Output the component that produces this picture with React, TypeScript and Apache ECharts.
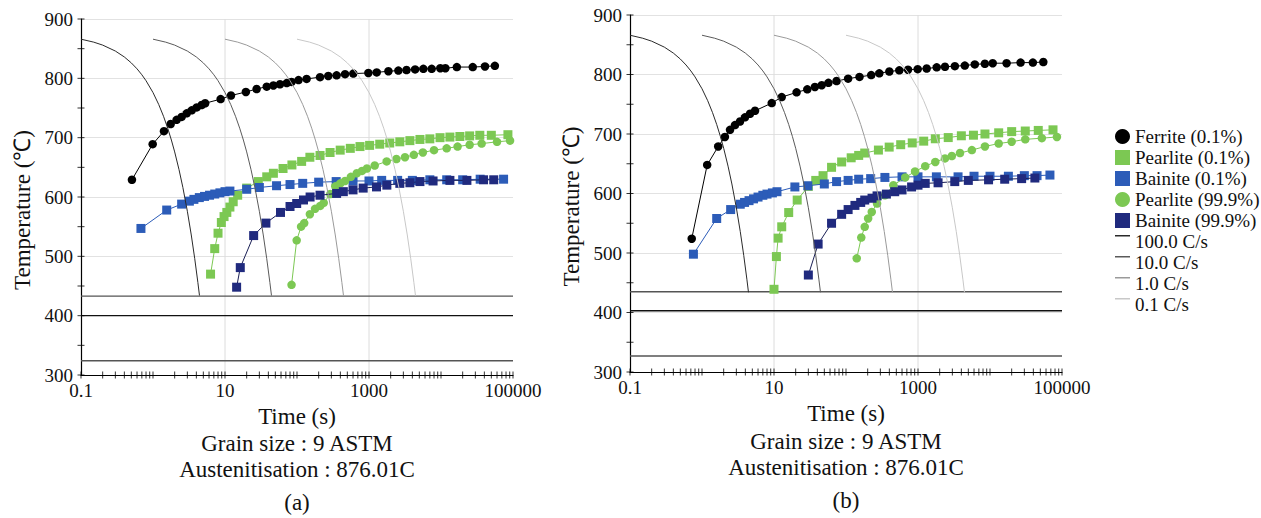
import React, { useEffect, useRef } from "react";
import * as echarts from "echarts";

type P = [number, number];

// ---------- chart (a) ----------
const ferriteA: P[] = [
  [0.51, 629], [0.99, 689], [1.42, 711], [1.76, 723], [2.13, 730], [2.5, 735], [2.94, 741], [3.45, 746],
  [4.05, 751], [4.74, 755], [5.3, 758], [8.7, 765], [12.1, 771], [19.5, 777], [27.5, 782], [38, 786],
  [47, 788], [58, 790], [72, 792], [84, 794], [105, 797], [136, 799], [209, 802], [272, 804], [355, 805],
  [465, 807], [605, 808], [980, 809], [1280, 810], [1860, 812], [2560, 813], [3320, 814], [4370, 815],
  [5690, 816], [7430, 816], [9770, 817], [11500, 817], [16600, 819], [27600, 819], [40800, 820], [56000, 821],
];
const pearlite01A: P[] = [
  [6.3, 470], [7.2, 513], [8.0, 539], [8.9, 557], [9.7, 567], [10.6, 574], [11.7, 583], [13, 592], [15, 603],
  [20, 615], [29, 626], [38, 634], [47, 640], [64, 648], [85, 654], [116, 660], [151, 667], [209, 670],
  [288, 675], [398, 679], [550, 682], [750, 685], [1020, 687], [1410, 689], [1940, 691], [2680, 693],
  [3700, 695], [5100, 697], [7000, 698], [9700, 700], [13300, 701], [18300, 702], [25000, 703],
  [34600, 704], [50000, 704], [85000, 705],
];
const bainite01A: P[] = [
  [0.68, 547], [1.55, 578], [2.5, 588], [3.2, 593], [3.7, 596], [4.4, 599], [5.2, 601], [6.1, 603], [7.2, 605],
  [8.5, 607], [10, 609], [11.7, 610], [20, 613], [30, 616], [52, 619], [80, 621], [120, 623], [200, 625],
  [350, 626], [600, 627], [1000, 627], [1500, 628], [2500, 628], [4000, 628], [7000, 629], [12000, 629],
  [20000, 629], [35000, 630], [74000, 630],
];
const pearlite999A: P[] = [
  [84, 452], [99, 527], [114, 550], [126, 556], [151, 571], [178, 580], [210, 585], [235, 590], [290, 605],
  [340, 618], [400, 623], [465, 627], [560, 634], [676, 640], [800, 644], [935, 648], [1200, 653],
  [1760, 660], [2400, 664], [3160, 667], [4200, 671], [5600, 675], [8000, 679], [12000, 682],
  [17000, 685], [25000, 688], [36700, 690], [60000, 693], [91000, 695],
];
const bainite999A: P[] = [
  [14.5, 448], [16.3, 481], [25, 535], [37, 556], [59, 574], [80, 584], [99, 589], [123, 595], [152, 600],
  [209, 603], [355, 606], [440, 609], [600, 612], [830, 615], [1270, 617], [1770, 620], [2680, 623],
  [3700, 624], [5100, 626], [7760, 627], [13300, 628], [22900, 628], [39000, 629], [54000, 629],
];
const martensiteA = [433, 400, 324];

// ---------- chart (b) ----------
const ferriteB: P[] = [
  [0.72, 524], [1.18, 648], [1.68, 679], [2.08, 695], [2.45, 707], [2.87, 715], [3.37, 721], [3.95, 728],
  [4.64, 734], [5.45, 739], [9.3, 752], [12.8, 762], [20.6, 770], [29, 775], [37, 779], [46, 782], [57, 786],
  [74, 789], [107, 793], [154, 796], [224, 799], [290, 802], [400, 805], [550, 807], [727, 808], [990, 809],
  [1320, 810], [1820, 812], [2370, 813], [3250, 814], [4470, 815], [6150, 817], [8490, 818], [10900, 819],
  [17000, 819], [26600, 820], [39400, 820], [55000, 821],
];
const pearlite01B: P[] = [
  [10, 439], [10.8, 494], [11.4, 525], [12.8, 544], [16, 568], [21, 589], [30, 612], [38, 622], [48, 630],
  [63, 644], [87, 653], [118, 660], [150, 664], [182, 668], [282, 673], [398, 678], [575, 682], [832, 685],
  [1200, 688], [1740, 692], [2630, 694], [4000, 697], [5890, 698], [8510, 700], [13200, 702], [20000, 704],
  [30900, 705], [46800, 706], [75000, 707],
];
const bainite01B: P[] = [
  [0.76, 498], [1.6, 558], [2.5, 573], [3.4, 582], [3.9, 585], [4.5, 588], [5.2, 591], [6, 594], [7, 597],
  [8, 599], [9.5, 601], [11, 603], [19.5, 611], [29.5, 613], [50, 616], [74, 620], [107, 622], [150, 624],
  [220, 625], [347, 627], [600, 628], [1000, 628], [1800, 628], [3600, 628], [6000, 629], [10000, 629],
  [18000, 629], [30000, 630], [45000, 630], [68000, 631],
];
const pearlite999B: P[] = [
  [141, 491], [163, 526], [182, 544], [203, 558], [228, 569], [270, 583], [347, 597], [455, 614], [665, 627],
  [910, 637], [1260, 646], [1740, 653], [2370, 659], [2950, 663], [3830, 668], [5600, 673], [8510, 679],
  [13200, 684], [20000, 687], [30900, 691], [52500, 693], [85000, 695],
];
const bainite999B: P[] = [
  [30, 463], [41, 515], [63, 550], [87, 565], [107, 573], [133, 580], [160, 585], [182, 589], [230, 592],
  [270, 596], [364, 599], [475, 603], [600, 606], [815, 611], [1000, 614], [1260, 617], [1900, 618],
  [3240, 620], [5000, 622], [9550, 623], [16000, 624], [27500, 625], [42000, 626],
];
const martensiteB = [435, 403, 327];

// ---------- cooling curves (shared) ----------
const coolTemps = [866, 861, 856, 846, 836, 826, 816, 806, 796, 776, 756, 736, 716, 696, 676, 646, 616, 576, 536, 496, 456, 434];
const coolTimes100 = [0.1, 0.15, 0.2, 0.3, 0.4, 0.5, 0.6, 0.7, 0.8, 1.0, 1.2, 1.4, 1.6, 1.8, 2.0, 2.3, 2.6, 3.0, 3.4, 3.8, 4.2, 4.42];
const coolTimes10 = [1, 1.5, 2, 3, 4, 5, 6, 7, 8, 10, 12, 14, 16, 18, 20, 23, 26, 30, 34, 38, 42, 44.2];
const coolTimes1 = [10, 15, 20, 30, 40, 50, 60, 70, 80, 100, 120, 140, 160, 180, 200, 230, 260, 300, 340, 380, 420, 442];
const coolTimes01 = [100, 150, 200, 300, 400, 500, 600, 700, 800, 1000, 1200, 1400, 1600, 1800, 2000, 2300, 2600, 3000, 3400, 3800, 4200, 4420];

const xTickLabels = ["0.1", "10", "1000", "100000"];
const xGridValues = [10, 1000];
const captionLines = ["Grain size : 9 ASTM", "Austenitisation : 876.01C"];
const panelLabels = ["(a)", "(b)"];

const FONT = "Liberation Serif, Times New Roman, serif";
const GREEN = "#7cc853";
const BLUE = "#2c5cb8";
const NAVY = "#202a7e";

const phaseDefs = [
  { name: "Ferrite (0.1%)", symbol: "circle", color: "#000000", line: "#000000", size: 8.5 },
  { name: "Pearlite (0.1%)", symbol: "rect", color: GREEN, line: GREEN, size: 9 },
  { name: "Bainite (0.1%)", symbol: "rect", color: BLUE, line: BLUE, size: 9 },
  { name: "Pearlite (99.9%)", symbol: "circle", color: GREEN, line: GREEN, size: 8.5 },
  { name: "Bainite (99.9%)", symbol: "rect", color: NAVY, line: "#1a1f55", size: 9 },
];
const coolDefs = [
  { name: "100.0 C/s", times: coolTimes100, color: "#2a2a2a" },
  { name: "10.0 C/s", times: coolTimes10, color: "#5a5a5a" },
  { name: "1.0 C/s", times: coolTimes1, color: "#9a9a9a" },
  { name: "0.1 C/s", times: coolTimes01, color: "#c8c8c8" },
];

function buildOption() {
  const grids = [
    { left: 81, top: 19, width: 432, height: 356 },
    { left: 630, top: 15, width: 432, height: 357 },
  ];
  const phaseData = [
    [ferriteA, pearlite01A, bainite01A, pearlite999A, bainite999A],
    [ferriteB, pearlite01B, bainite01B, pearlite999B, bainite999B],
  ];
  const msData = [martensiteA, martensiteB];

  const xAxes: any[] = [];
  const yAxes: any[] = [];
  const series: any[] = [];

  const xTicks: P[] = [];
  for (let e = -1; e <= 4; e++) {
    for (let d = 1; d <= 9; d++) xTicks.push([d * Math.pow(10, e), 300]);
  }
  xTicks.push([100000, 300]);
  const yTicks: P[] = [];
  for (let v = 300; v <= 900; v += 50) yTicks.push([0.1, v]);

  grids.forEach((_, g) => {
    xAxes.push({
      type: "log",
      logBase: 10,
      gridIndex: g,
      min: 0.1,
      max: 100000,
      splitNumber: 6,
      axisLine: { lineStyle: { color: "#000", width: 1.2 } },
      axisTick: { show: false },
      splitLine: { show: false },
      axisLabel: {
        fontFamily: FONT,
        fontSize: 19,
        color: "#111",
        margin: 6,
        formatter: (v: number) => {
          const e = Math.round(Math.log10(v));
          if (Math.abs(e % 2) !== 1) return "";
          return xTickLabels[(e + 1) / 2] ?? "";
        },
      },
      name: "Time (s)",
      nameLocation: "middle",
      nameGap: 21,
      nameTextStyle: { fontFamily: FONT, fontSize: 23, color: "#111" },
    });
    yAxes.push({
      type: "value",
      gridIndex: g,
      min: 300,
      max: 900,
      interval: 100,
      axisLine: { show: true, lineStyle: { color: "#000", width: 1.2 } },
      axisTick: { show: false },
      splitLine: { lineStyle: { color: "#e2e2e2", width: 1 } },
      axisLabel: { fontFamily: FONT, fontSize: 19, color: "#111", margin: 8 },
      name: "Temperature (℃)",
      nameLocation: "middle",
      nameGap: 47,
      nameRotate: 90,
      nameTextStyle: { fontFamily: FONT, fontSize: 23, color: "#111", padding: [0, 26, 0, 0] },
    });

    // vertical grid lines at 10 and 1000
    const vg: any[] = [];
    xGridValues.forEach((x, i) => {
      if (i > 0) vg.push("-");
      vg.push([x, 300], [x, 900]);
    });
    series.push({
      type: "line",
      xAxisIndex: g,
      yAxisIndex: g,
      data: vg,
      symbol: "none",
      silent: true,
      z: 0,
      lineStyle: { color: "#dcdcdc", width: 1 },
    });

    // martensite lines
    const msColors = ["#555", "#111", "#555"];
    msData[g].forEach((t, i) => {
      series.push({
        type: "line",
        xAxisIndex: g,
        yAxisIndex: g,
        data: [[0.1, t], [100000, t]],
        symbol: "none",
        silent: true,
        z: 1,
        lineStyle: { color: msColors[i], width: 1.4 },
      });
    });

    // phase curves
    phaseDefs.forEach((p, i) => {
      series.push({
        name: p.name,
        type: "line",
        xAxisIndex: g,
        yAxisIndex: g,
        data: phaseData[g][i],
        symbol: p.symbol,
        symbolSize: p.size,
        showAllSymbol: true,
        z: 2 + i * 0.1,
        itemStyle: { color: p.color },
        lineStyle: { color: p.line, width: 1 },
      });
    });

    // cooling curves
    coolDefs.forEach((c) => {
      series.push({
        name: c.name,
        type: "line",
        xAxisIndex: g,
        yAxisIndex: g,
        data: c.times.map((t, i) => [t, coolTemps[i]]),
        symbol: "none",
        z: 3,
        itemStyle: { color: c.color },
        lineStyle: { color: c.color, width: 1 },
      });
    });

    // tick marks (crossing the axis lines)
    series.push({
      type: "scatter",
      xAxisIndex: g,
      yAxisIndex: g,
      data: xTicks,
      symbol: "rect",
      symbolSize: [1, 7],
      clip: false,
      silent: true,
      z: 5,
      itemStyle: { color: "#000" },
    });
    series.push({
      type: "scatter",
      xAxisIndex: g,
      yAxisIndex: g,
      data: yTicks,
      symbol: "rect",
      symbolSize: [7, 1],
      clip: false,
      silent: true,
      z: 5,
      itemStyle: { color: "#000" },
    });
  });

  const lineIcon = "path://M0,0H14V1.3H0Z M0,12H14V12.01H0Z";
  const legendData = [
    ...phaseDefs.map((p) => ({ name: p.name, icon: p.symbol })),
    ...coolDefs.map((c) => ({ name: c.name, icon: lineIcon })),
  ];

  const centers = [297, 846];
  const captionY = [[443, 469, 502], [441, 467, 500]];
  const graphic: any[] = [];
  centers.forEach((cx, g) => {
    const texts = [...captionLines, panelLabels[g]];
    texts.forEach((t, i) => {
      graphic.push({
        type: "text",
        x: cx,
        y: captionY[g][i],
        style: {
          text: t,
          font: `23px ${FONT}`,
          fill: "#111",
          textAlign: "center",
          textVerticalAlign: "middle",
        },
      });
    });
  });

  return {
    animation: false,
    backgroundColor: "#fff",
    grid: grids,
    xAxis: xAxes,
    yAxis: yAxes,
    series,
    graphic,
    legend: {
      orient: "vertical",
      left: 1110,
      top: 122,
      itemWidth: 15,
      itemHeight: 15,
      itemGap: 2,
      selectedMode: false,
      itemStyle: { borderWidth: 0 },
      textStyle: { fontFamily: FONT, fontSize: 19, color: "#111" },
      data: legendData,
    },
  };
}

export default function App() {
  const ref = useRef<HTMLDivElement>(null);
  useEffect(() => {
    document.body.style.margin = "0";
    const chart = echarts.init(ref.current!, null, { renderer: "svg" });
    chart.setOption(buildOption() as any);
    return () => chart.dispose();
  }, []);
  return <div ref={ref} style={{ width: 1261, height: 518 }} />;
}
